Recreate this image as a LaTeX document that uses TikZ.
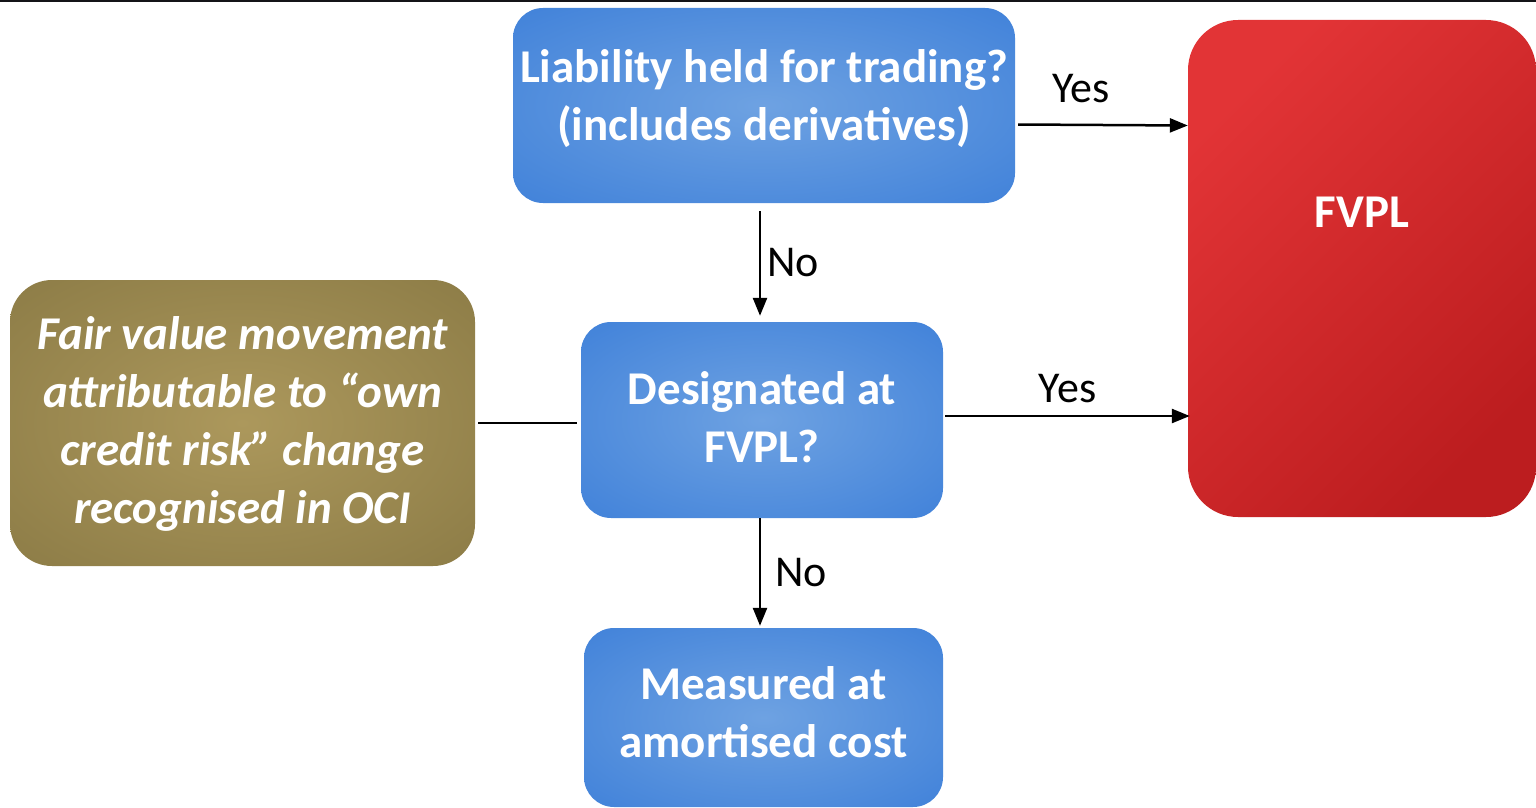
\documentclass[tikz,border=0pt]{standalone}
\usepackage{fontspec}
\setmainfont{Carlito}
\usetikzlibrary{arrows.meta,calc}

\definecolor{boxblue}{RGB}{47,117,214}
\definecolor{boxglow}{RGB}{110,162,226}
\definecolor{ociedge}{RGB}{128,113,62}
\definecolor{ociglow}{RGB}{172,152,92}
\definecolor{fvplred}{RGB}{226,52,54}
\definecolor{fvpldark}{RGB}{188,29,31}
\definecolor{rule}{RGB}{20,20,24}

\pgfdeclareradialshading{blueglow}{\pgfpoint{0bp}{0bp}}{color(0bp)=(boxglow); color(50bp)=(boxblue)}
\pgfdeclareradialshading{ociglow}{\pgfpoint{0bp}{0bp}}{color(0bp)=(ociglow); color(50bp)=(ociedge)}

\begin{document}
\begin{tikzpicture}[
  x = 1pt, y = -1pt,
  every node/.style = {text=white, align=center, inner sep=0pt,
                       font=\fontsize{47}{58}\selectfont\bfseries},
  bluebox/.style n args = {3}{rectangle, rounded corners=30pt, shading=blueglow,
                       minimum width=#1, minimum height=#2, text depth=#3},
  ocibox/.style = {rectangle, rounded corners=42pt, shading=ociglow,
                   minimum width=465pt, minimum height=286pt, text depth=6pt,
                   font=\fontsize{47}{58}\selectfont\bfseries\itshape},
  fvplbox/.style = {rectangle, rounded corners=50pt, top color=fvplred,
                    bottom color=fvpldark, shading angle=45,
                    minimum width=348pt, minimum height=497pt},
  flow/.style = {line width=2.5pt, -{Triangle[length=18pt,width=14pt]}},
  lbl/.style = {text=black, font=\fontsize{44}{53}\selectfont}
  ]
  \useasboundingbox (0,0) rectangle (1536,808);
  \draw[rule, line width=5pt] (0,0) -- (1536,0);

  % boxes
  \node[bluebox={502pt}{195pt}{20pt}] (trade) at (764,105.5)
    {Liability held for trading?\\(includes derivatives)};
  \node[bluebox={362pt}{196pt}{6pt}] (desig) at (762,420)
    {Designated at\\FVPL?};
  \node[bluebox={359pt}{179pt}{10pt}] (amort) at (763.5,717.5)
    {Measured at\\amortised cost};
  \node[ocibox] (oci) at (242.5,423)
    {Fair value movement\\attributable to “own\\credit risk” change\\recognised in OCI};
  \node[fvplbox] (fvpl) at (1362,268.5) {};
  \node (fvpltext) at ($(fvpl.north)+(0,192)$) {FVPL};

  % connectors
  \draw[flow] ($(trade.east)+(3,19)$) -- ($(trade.east -| fvpl.west)+(0,20)$)
    node[lbl, pos=0.37, above=21pt] {Yes};
  \draw[flow, shorten <=8pt, shorten >=6pt] ([xshift=-4pt]trade.south) -- ([xshift=-2pt]desig.north)
    node[lbl, midway, right=6pt] {No};
  \draw[flow, shorten >=2pt] ([xshift=-2pt]desig.south) -- ([xshift=-3.5pt]amort.north)
    node[lbl, midway, right=14pt] {No};
  \draw[flow] ($(desig.east)+(2,-4)$) -- ($(desig.east -| fvpl.west)+(2,-4)$)
    node[lbl, midway, above=12pt] {Yes};
  \draw[line width=2.5pt, shorten <=3pt, shorten >=4pt] (oci.east) -- (oci.east -| desig.west);
\end{tikzpicture}
\end{document}
